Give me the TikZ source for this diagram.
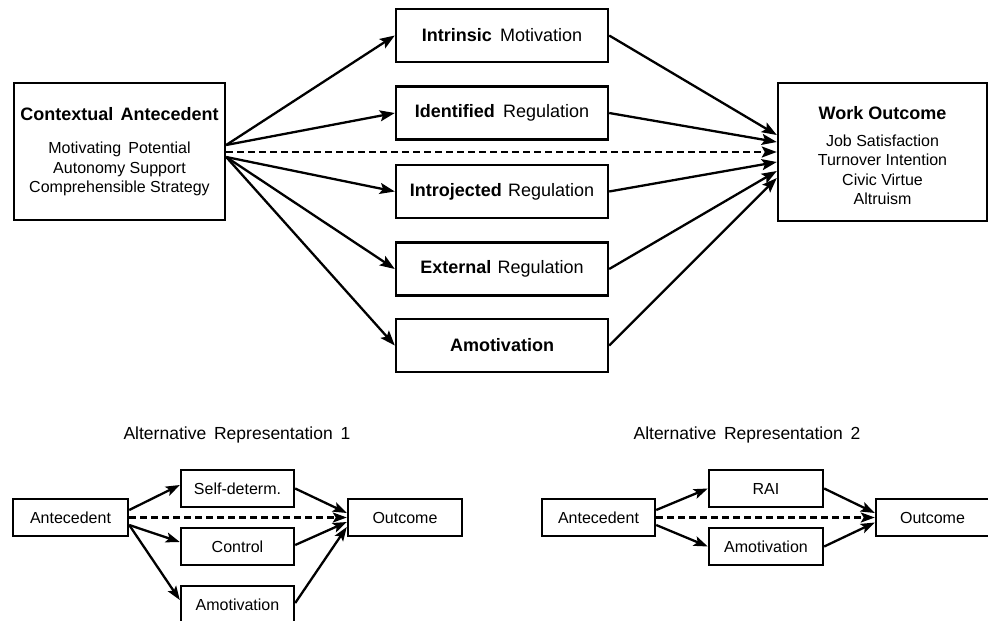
\documentclass[tikz,border=0pt]{standalone}
\usepackage{fontspec}
\setmainfont{Liberation Sans}
\usetikzlibrary{arrows.meta}
\begin{document}
\begin{tikzpicture}[x=1pt,y=-1pt,
  box/.style={draw,line width=2.4pt,inner sep=0pt,align=center},
  arr/.style={line width=2.3pt,-{Stealth[length=15pt,width=11pt,inset=3pt]}},
  sarr/.style={line width=2.3pt,-{Stealth[length=14pt,width=10pt,inset=3pt]}},
  dsh/.style={dash pattern=on 7pt off 4pt},
  big/.style={font=\fontsize{18}{21}\selectfont},
  small/.style={font=\fontsize{16}{19.5}\selectfont},
  ttl/.style={font=\fontsize{17.5}{21}\selectfont}]
\useasboundingbox (0,0) rectangle (988,621);
% main model
\node[box,small,minimum width=211pt,minimum height=137pt] (ctx) at (119.5,151.5)
  {{\fontsize{18}{21}\selectfont\bfseries Contextual\hspace{0.4em}Antecedent}\\[14pt]Motivating\hspace{0.45em}Potential\\Autonomy Support\\Comprehensible Strategy};
\node[box,minimum width=209pt,minimum height=138pt] (wo) at (882.5,152) {};
\node[small,align=center,inner sep=0pt] (wot) at (882.5,156)
  {{\fontsize{18}{21}\selectfont\bfseries Work Outcome}\\[7pt]Job Satisfaction\\Turnover Intention\\Civic Virtue\\Altruism};
\node[box,big,minimum width=212pt,minimum height=53pt] (im) at (502,35.5) {\textbf{Intrinsic}\hspace{0.45em}Motivation};
\node[box,big,minimum width=212pt,minimum height=53pt] (ir) at (502,113) {\textbf{Identified}\hspace{0.45em}Regulation};
\node[box,big,minimum width=212pt,minimum height=53pt] (jr) at (502,191.5) {\textbf{Introjected}\hspace{0.35em}Regulation};
\node[box,big,minimum width=212pt,minimum height=53pt] (er) at (502,269) {\textbf{External}\hspace{0.35em}Regulation};
\node[box,big,minimum width=212pt,minimum height=53pt] (am) at (502,345.5) {\textbf{Amotivation}};
\draw[arr] ([yshift=6.5pt]ctx.east) -- (im.west);
\draw[arr] ([yshift=6.5pt]ctx.east) -- (ir.west);
\draw[arr] ([yshift=-5.5pt]ctx.east) -- (jr.west);
\draw[arr] ([yshift=-5.5pt]ctx.east) -- (er.west);
\draw[arr] ([yshift=-5.5pt]ctx.east) -- (am.west);
\draw[arr,dsh] ([yshift=-0.5pt]ctx.east) -- (wo.west);
\draw[arr] (im.east) -- ([yshift=17pt]wo.west);
\draw[arr] (ir.east) -- ([yshift=10pt]wo.west);
\draw[arr] (jr.east) -- ([yshift=-10pt]wo.west);
\draw[arr] (er.east) -- ([yshift=-19pt]wo.west);
\draw[arr] (am.east) -- ([yshift=-26pt]wo.west);
% alternative 1
\node[ttl] (t1) at (237,435) {Alternative\hspace{0.45em}Representation\hspace{0.45em}1};
\node[box,small,minimum width=115pt,minimum height=37pt] (a1) at (70.5,517.5) {Antecedent};
\node[box,small,minimum width=113pt,minimum height=37pt] (sd) at (237.5,488.5) {Self-determ.};
\node[box,small,minimum width=113pt,minimum height=37pt] (ct) at (237.5,546.5) {Control};
\node[box,small,minimum width=113pt,minimum height=37pt] (m1) at (237.5,604.5) {Amotivation};
\node[box,small,minimum width=114pt,minimum height=37pt] (o1) at (405,517.5) {Outcome};
\draw[sarr] ([yshift=7.5pt]a1.east) -- ([yshift=3.5pt]sd.west);
\draw[sarr] ([yshift=-7.5pt]a1.east) -- ([yshift=4.5pt]ct.west);
\draw[sarr] ([yshift=-7.5pt]a1.east) -- ([yshift=4.5pt]m1.west);
\draw[sarr,dsh] (a1.east) -- (o1.west);
\draw[sarr] (sd.east) -- ([yshift=4.5pt]o1.west);
\draw[sarr] ([yshift=1.5pt]ct.east) -- ([yshift=-4.5pt]o1.west);
\draw[sarr] ([yshift=1.5pt]m1.east) -- ([yshift=-9.5pt]o1.west);
% alternative 2
\node[ttl] (t2) at (747,435) {Alternative\hspace{0.45em}Representation\hspace{0.45em}2};
\node[box,small,minimum width=113pt,minimum height=37pt] (a2) at (598.5,517.5) {Antecedent};
\node[box,small,minimum width=114pt,minimum height=37pt] (ra) at (766,488.5) {RAI};
\node[box,small,minimum width=114pt,minimum height=37pt] (m2) at (766,546.5) {Amotivation};
\node[box,small,minimum width=113pt,minimum height=37pt] (o2) at (932.5,517.5) {Outcome};
\draw[sarr] ([yshift=7.5pt]a2.east) -- (ra.west);
\draw[sarr] ([yshift=-7.5pt]a2.east) -- (m2.west);
\draw[sarr,dsh] (a2.east) -- (o2.west);
\draw[sarr] (ra.east) -- ([yshift=4.5pt]o2.west);
\draw[sarr] (m2.east) -- ([yshift=-5pt]o2.west);
\end{tikzpicture}
\end{document}
